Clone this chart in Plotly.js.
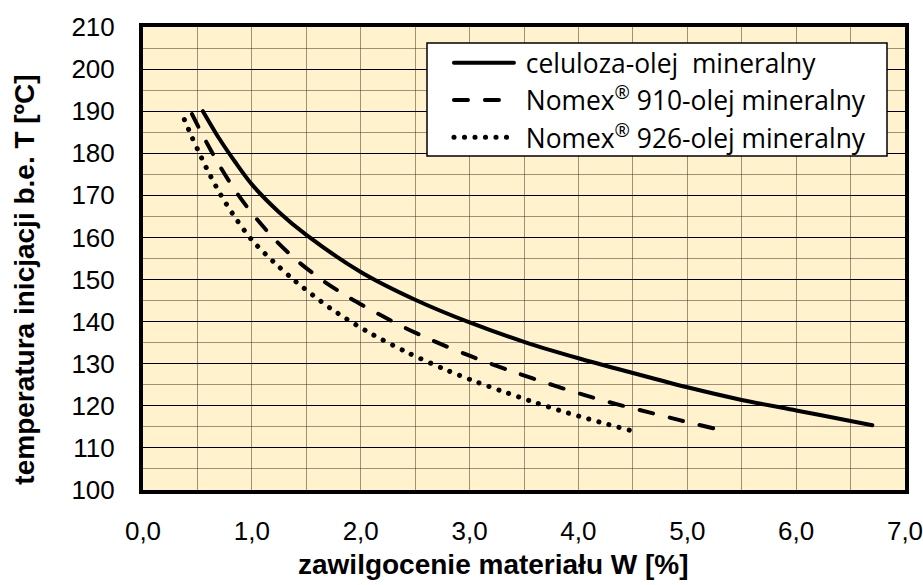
<!DOCTYPE html>
<html>
<head>
<meta charset="utf-8">
<script src="https://cdn.plot.ly/plotly-3.0.1.min.js"></script>
<style>
html,body{margin:0;padding:0;background:#fff;}
#chart{width:923px;height:585px;}
#chart path.js-line{stroke-linecap:round !important;stroke-linejoin:round !important;}
</style>
</head>
<body>
<div id="chart"></div>
<script>
// Series names
const seriesNames = [
  "\u00a0celuloza-olej\u00a0 mineralny",
  "\u00a0Nomex<sup>®</sup> 910-olej mineralny",
  "\u00a0Nomex<sup>®</sup> 926-olej mineralny"
];
// celuloza-olej mineralny
const celX = [0.55, 0.7, 0.85, 1.0, 1.25, 1.5, 2.0, 2.5, 3.0, 3.5, 4.0, 4.5, 5.0, 5.5, 6.0, 6.5, 6.7];
const celY = [190, 183.5, 177.8, 172.6, 166, 160.6, 151.8, 145.2, 139.8, 135.2, 131.3, 127.8, 124.4, 121.4, 118.9, 116.4, 115.4];
// Nomex 910-olej mineralny
const n910X = [0.45, 0.55, 0.7, 0.85, 1.0, 1.2, 1.41, 1.65, 1.9, 2.15, 2.41, 2.67, 3.0, 3.4, 3.78, 4.05, 4.35, 4.64, 4.93, 5.28];
const n910Y = [189.3, 184.2, 177.2, 171, 165.8, 159.8, 154.6, 149.8, 145.6, 142, 138.5, 135.4, 131.9, 128.1, 124.8, 122.6, 120.4, 118.5, 116.6, 114.4];
// Nomex 926-olej mineralny
const n926X = [0.38, 0.45, 0.52, 0.6, 0.71, 0.85, 1.0, 1.2, 1.4, 1.72, 2.05, 2.41, 2.77, 3.04, 3.33, 3.6, 3.89, 4.09, 4.27, 4.47];
const n926Y = [188, 183.8, 179.9, 175.6, 170.3, 164.6, 159.4, 154.2, 149.6, 143.2, 137.8, 132.9, 128.7, 125.9, 123.2, 120.8, 118.4, 116.9, 115.6, 114.2];

const xTitle = "zawilgocenie materiału W [%]";
const yTitle = "temperatura inicjacji b.e. T [ºC]";

const traces = [
  {x: celX, y: celY, name: seriesNames[0], mode: "lines",
   line: {color: "#000", width: 4, shape: "spline", smoothing: 0.8}},
  {x: n910X, y: n910Y, name: seriesNames[1], mode: "lines",
   line: {color: "#000", width: 4, dash: "14px,17px", shape: "spline", smoothing: 0.8}},
  {x: n926X, y: n926Y, name: seriesNames[2], mode: "lines",
   line: {color: "#000", width: 5, dash: "0.1px,10.4px", shape: "spline", smoothing: 0.8}}
];

const gridGray = "rgba(60,50,30,0.5)";
const tickFont = {size: 26, family: "Liberation Sans, Arial, sans-serif", color: "#000"};
const layout = {
  width: 923, height: 585,
  margin: {l: 143, r: 18, t: 27, b: 95},
  paper_bgcolor: "#fff",
  plot_bgcolor: "#FFF2CC",
  separators: ", ",
  showlegend: true,
  font: {family: "Liberation Sans, Arial, sans-serif", color: "#000"},
  xaxis: {
    range: [0, 7], dtick: 1, tick0: 0, tickformat: ".1f",
    showgrid: true, gridcolor: gridGray, gridwidth: 1,
    minor: {dtick: 0.5, showgrid: true, gridcolor: gridGray, gridwidth: 1},
    zeroline: false, showline: true, mirror: true, linecolor: "#000", linewidth: 4,
    ticks: "", ticklabelstandoff: 15, tickfont: tickFont, fixedrange: true,
    ticklabeloverflow: "allow"
  },
  yaxis: {
    range: [100, 210], dtick: 10, tick0: 100,
    showgrid: true, gridcolor: "#000", gridwidth: 1,
    minor: {dtick: 5, showgrid: true, gridcolor: gridGray, gridwidth: 1},
    zeroline: false, showline: true, mirror: true, linecolor: "#000", linewidth: 4,
    ticks: "", ticklabelstandoff: 19, tickfont: tickFont, fixedrange: true,
    ticklabeloverflow: "allow"
  },
  legend: {
    x: 0.4015, y: 0.974, xanchor: "left", yanchor: "top",
    bgcolor: "rgba(0,0,0,0)", borderwidth: 0,
    font: {family: "Open Sans, sans-serif", size: 26.4, color: "#000"},
    itemwidth: 60
  },
  shapes: [
    {type: "rect", xref: "paper", yref: "paper", layer: "above",
     x0: (427 - 143) / 762, x1: (887 - 143) / 762,
     y0: 1 - (156 - 27) / 463, y1: 1 - (43 - 27) / 463,
     fillcolor: "#fff", line: {color: "#000", width: 1.5}}
  ],
  annotations: [
    {text: xTitle, xref: "paper", yref: "paper", x: 0.46, y: -0.16,
     xanchor: "center", yanchor: "middle", showarrow: false,
     font: {family: "Liberation Sans, Arial, sans-serif", size: 28, color: "#000", weight: "bold"}},
    {text: yTitle, xref: "paper", yref: "paper", x: -0.156, y: 0.4546, textangle: -90,
     xanchor: "center", yanchor: "middle", showarrow: false,
     font: {family: "Liberation Sans, Arial, sans-serif", size: 28, color: "#000", weight: "bold"}}
  ]
};

Plotly.newPlot("chart", traces, layout, {displayModeBar: false, staticPlot: true});
</script>
</body>
</html>
